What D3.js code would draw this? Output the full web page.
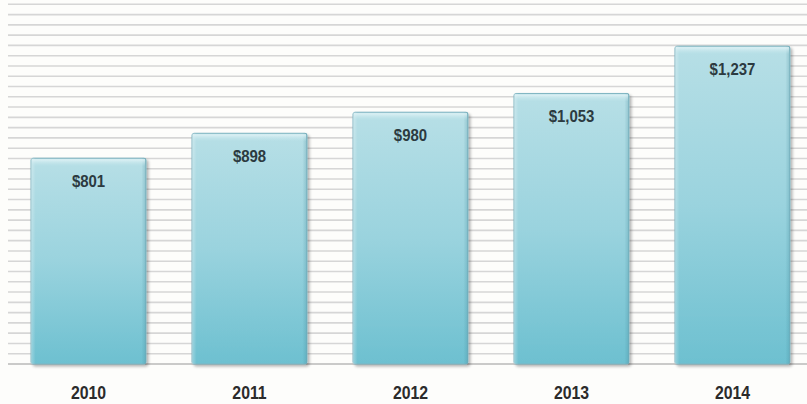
<!DOCTYPE html>
<html>
<head>
<meta charset="utf-8">
<script src="https://cdn.jsdelivr.net/npm/d3@7"></script>
<style>
  html, body { margin: 0; padding: 0; background: #fdfdfb; }
  svg { display: block; }
  text { font-family: "Liberation Sans", Arial, sans-serif; font-weight: bold; }
</style>
</head>
<body>
<svg id="chart" width="807" height="404"></svg>
<script>
// Annual totals, in dollars
const years = ["2010", "2011", "2012", "2013", "2014"];
const totals = [801, 898, 980, 1053, 1237];
const valueLabels = ["$801", "$898", "$980", "$1,053", "$1,237"];
const gridMax = 1400;
const gridStep = 40;

const W = 807, H = 404;
const narrow = 0.88; // horizontal squeeze for a condensed look
const svg = d3.select("#chart");

const x = d3.scaleBand()
  .domain(years)
  .range([8, 813])
  .paddingInner(0.2857)
  .paddingOuter(0.143);

const y = d3.scaleLinear()
  .domain([0, gridMax])
  .range([364, 4.3]);

// bar fill gradient
const defs = svg.append("defs");
const grad = defs.append("linearGradient")
  .attr("id", "barFill").attr("x1", 0).attr("y1", 0).attr("x2", 0).attr("y2", 1);
grad.append("stop").attr("offset", "0%").attr("stop-color", "#b7dfe6");
grad.append("stop").attr("offset", "50%").attr("stop-color", "#9ad3de");
grad.append("stop").attr("offset", "100%").attr("stop-color", "#6dc0d0");

const sideGrad = defs.append("linearGradient")
  .attr("id", "sideShade").attr("x1", 0).attr("y1", 0).attr("x2", 1).attr("y2", 0);
sideGrad.append("stop").attr("offset", "0%").attr("stop-color", "#ffffff").attr("stop-opacity", 0.3);
sideGrad.append("stop").attr("offset", "4%").attr("stop-color", "#ffffff").attr("stop-opacity", 0);
sideGrad.append("stop").attr("offset", "96%").attr("stop-color", "#3f8797").attr("stop-opacity", 0);
sideGrad.append("stop").attr("offset", "100%").attr("stop-color", "#3f8797").attr("stop-opacity", 0.3);

const bevelGrad = defs.append("linearGradient")
  .attr("id", "bevel").attr("x1", 0).attr("y1", 0).attr("x2", 0).attr("y2", 1);
bevelGrad.append("stop").attr("offset", "0%").attr("stop-color", "#e4f4f7").attr("stop-opacity", 0.9);
bevelGrad.append("stop").attr("offset", "100%").attr("stop-color", "#c4e6ec").attr("stop-opacity", 0);

const shadow = defs.append("filter").attr("id", "barShadow")
  .attr("x", "-5%").attr("y", "-5%").attr("width", "112%").attr("height", "112%");
shadow.append("feGaussianBlur").attr("in", "SourceAlpha").attr("stdDeviation", 1.5);
shadow.append("feOffset").attr("dx", 1.5).attr("dy", 1.5).attr("result", "off");
shadow.append("feComponentTransfer").append("feFuncA").attr("type", "linear").attr("slope", 0.3);
const merge = shadow.append("feMerge");
merge.append("feMergeNode");
merge.append("feMergeNode").attr("in", "SourceGraphic");

// horizontal rules
const gridVals = d3.range(0, gridMax + gridStep / 2, gridStep);
svg.append("g").selectAll("line")
  .data(gridVals)
  .join("line")
  .attr("x1", 8).attr("x2", W)
  .attr("y1", d => y(d)).attr("y2", d => y(d))
  .attr("stroke", d => d === 0 ? "#b8b8b8" : "#d6d6d6")
  .attr("stroke-width", 1.6);

const data = years.map((yr, i) => ({ yr, v: totals[i], label: valueLabels[i] }));

const bars = svg.append("g").selectAll("g.bar")
  .data(data)
  .join("g").attr("class", "bar");

bars.append("rect")
  .attr("x", d => x(d.yr))
  .attr("y", d => y(d.v))
  .attr("width", x.bandwidth())
  .attr("height", d => y(0) - y(d.v))
  .attr("rx", 2)
  .attr("fill", "url(#barFill)")
  .attr("stroke", "#80b5c2")
  .attr("stroke-width", 1)
  .attr("filter", "url(#barShadow)");

bars.append("rect")
  .attr("x", d => x(d.yr))
  .attr("y", d => y(d.v))
  .attr("width", x.bandwidth())
  .attr("height", d => y(0) - y(d.v))
  .attr("fill", "url(#sideShade)");

// soft bevel along the top edge
bars.append("rect")
  .attr("x", d => x(d.yr) + 1)
  .attr("y", d => y(d.v) + 1)
  .attr("width", x.bandwidth() - 2)
  .attr("height", 7)
  .attr("fill", "url(#bevel)");

bars.append("text")
  .attr("transform", d => `translate(${x(d.yr) + x.bandwidth() / 2},${y(d.v) + 28.5}) scale(${narrow},1)`)
  .attr("text-anchor", "middle")
  .attr("font-size", 17)
  .attr("fill", "#2c3a40")
  .text(d => d.label);

// year labels
svg.append("g").selectAll("text")
  .data(years)
  .join("text")
  .attr("transform", d => `translate(${x(d) + x.bandwidth() / 2},399) scale(${narrow},1)`)
  .attr("text-anchor", "middle")
  .attr("font-size", 18)
  .attr("fill", "#2b2b2b")
  .text(d => d);
</script>
</body>
</html>
